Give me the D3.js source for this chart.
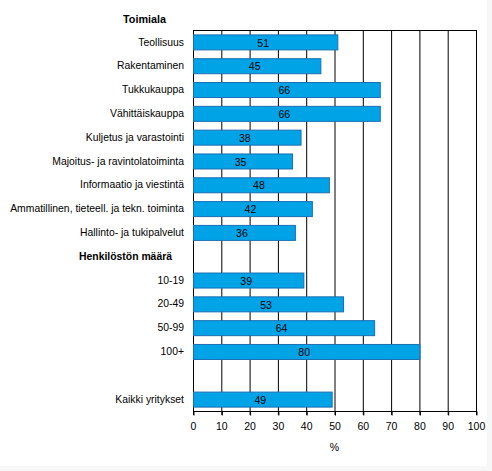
<!DOCTYPE html>
<html>
<head>
<meta charset="utf-8">
<script src="https://cdn.jsdelivr.net/npm/d3@7"></script>
<style>
  body { margin: 0; background: #fff; }
  svg text { font-family: "Liberation Sans", Arial, sans-serif; font-size: 10.5px; fill: #000; }
</style>
</head>
<body>
<div id="chart"></div>
<script>
// rows of the chart, top to bottom ('' = empty row)
const categories = [
  'Teollisuus', 'Rakentaminen', 'Tukkukauppa', 'Vähittäiskauppa',
  'Kuljetus ja varastointi', 'Majoitus- ja ravintolatoiminta',
  'Informaatio ja viestintä', 'Ammatillinen, tieteell. ja tekn. toiminta',
  'Hallinto- ja tukipalvelut', 'Henkilöstön määrä',
  '10-19', '20-49', '50-99', '100+', '', 'Kaikki yritykset'
];
const values = [51, 45, 66, 66, 38, 35, 48, 42, 36, null, 39, 53, 64, 80, null, 49];
const headers = ['Henkilöstön määrä'];
const xTicks = [0, 10, 20, 30, 40, 50, 60, 70, 80, 90, 100];
const groupTitle = 'Toimiala';
const xTitle = '%';

const W = 492, H = 471;
const margin = { top: 30, right: 16, bottom: 60, left: 193 };

const svg = d3.select('#chart').append('svg')
  .attr('width', W)
  .attr('height', H);

// faint frame like the original export
svg.append('rect').attr('width', W).attr('height', H).attr('fill', '#f7f7f7');
svg.append('rect').attr('width', 487).attr('height', 466).attr('fill', '#fff');

const x = d3.scaleLinear().domain([0, 100]).range([margin.left, W - margin.right]);
const y = d3.scaleBand().domain(d3.range(categories.length))
  .range([margin.top, H - margin.bottom]).paddingInner(0.37).paddingOuter(0.185);
const step = y.step();

// gridlines
svg.append('g').selectAll('line')
  .data(xTicks)
  .enter().append('line')
    .attr('x1', d => x(d) + 0.5).attr('x2', d => x(d) + 0.5)
    .attr('y1', margin.top).attr('y2', H - margin.bottom + 4)
    .style('stroke', '#000')
    .style('stroke-width', 1);

// top frame line
svg.append('line')
  .attr('x1', x(0)).attr('x2', x(100) + 1)
  .attr('y1', margin.top + 0.5).attr('y2', margin.top + 0.5)
  .style('stroke', '#000');

// x axis
const xAxis = svg.append('g')
  .attr('transform', `translate(0.5,${H - margin.bottom + 0.5})`)
  .call(d3.axisBottom(x).tickValues(xTicks).tickSize(4).tickPadding(7));
xAxis.select('.domain').attr('stroke', '#000').attr('d', `M${x(0)},0H${x(100)}`);
xAxis.selectAll('text').style('font-size', '10.5px').attr('dx', '-0.5');

svg.append('text')
  .attr('x', (x(0) + x(100)) / 2)
  .attr('y', 451)
  .attr('text-anchor', 'middle')
  .text(xTitle);

// bars
const rows = categories.map((c, i) => ({ name: c, value: values[i], i }));

svg.append('g').selectAll('rect')
  .data(rows.filter(d => d.value !== null))
  .enter().append('rect')
    .attr('x', x(0) + 0.5)
    .attr('y', d => y(d.i) + 0.5)
    .attr('width', d => x(d.value) - x(0))
    .attr('height', y.bandwidth())
    .style('fill', '#00a3e6')
    .style('stroke', '#1b6eb3')
    .style('stroke-width', 1);

svg.append('g').selectAll('text')
  .data(rows.filter(d => d.value !== null))
  .enter().append('text')
    .attr('x', d => (x(0) + x(d.value)) / 2 - 2)
    .attr('y', d => y(d.i) + y.bandwidth() / 2 + 1)
    .attr('dy', '0.35em')
    .attr('text-anchor', 'middle')
    .text(d => d.value);

// category labels
svg.append('g').selectAll('text')
  .data(rows.filter(d => d.name && headers.indexOf(d.name) < 0))
  .enter().append('text')
    .attr('x', margin.left - 9)
    .attr('y', d => y(d.i) + y.bandwidth() / 2)
    .attr('dy', '0.35em')
    .attr('text-anchor', 'end')
    .style('font-size', '10.4px')
    .text(d => d.name);

// bold group headers
svg.append('g').selectAll('text')
  .data(rows.filter(d => headers.indexOf(d.name) >= 0))
  .enter().append('text')
    .attr('x', margin.left - 21)
    .attr('y', d => y(d.i) + y.bandwidth() / 2)
    .attr('dy', '0.35em')
    .attr('text-anchor', 'end')
    .style('font-weight', 'bold')
    .style('font-size', '10.4px')
    .text(d => d.name);

svg.append('text')
  .attr('x', 166)
  .attr('y', margin.top - step / 2 + 1)
  .attr('dy', '0.35em')
  .attr('text-anchor', 'end')
  .style('font-weight', 'bold')
  .style('font-size', '10.8px')
  .text(groupTitle);
</script>
</body>
</html>
